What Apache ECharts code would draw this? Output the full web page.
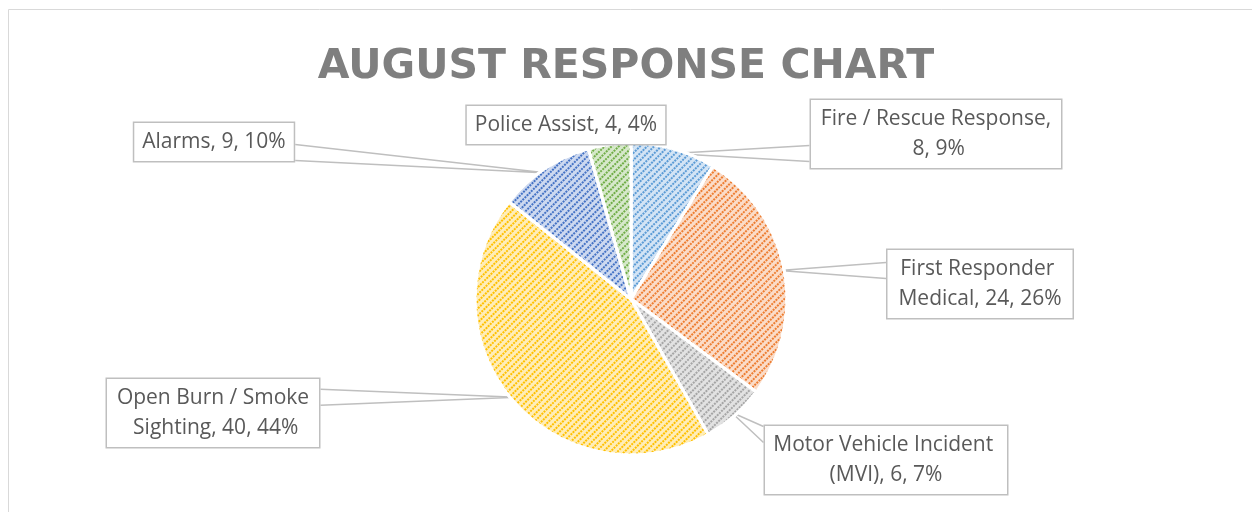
<!DOCTYPE html>
<html>
<head>
<meta charset="utf-8">
<script src="https://cdn.jsdelivr.net/npm/echarts@6/dist/echarts.min.js"></script>
<style>
  html, body { margin: 0; padding: 0; background: #fff; }
  #main { width: 1252px; height: 512px; }
</style>
</head>
<body>
<div id="main"></div>
<script>
// data
var categories = [
    'Fire / Rescue Response',
    'First Responder Medical',
    'Motor Vehicle Incident (MVI)',
    'Open Burn / Smoke Sighting',
    'Alarms',
    'Police Assist'
];
var responses = [8, 24, 6, 40, 9, 4];

// slice colours: pattern colour and light background tint
var dotColors = ['#5B9BD5', '#ED7D31', '#A5A5A5', '#FFC000', '#4472C4', '#70AD47'];
var tintColors = ['#D3E4F5', '#FBDCC8', '#E2E2E2', '#FFEDB8', '#CDD9F0', '#D6E8CA'];

// callout boxes (centre of box, wrap width for two-line ones)
var calloutBoxes = [
    { x: 936, y: 134, wrap: 234 },
    { x: 980, y: 284, wrap: 169 },
    { x: 886, y: 460, wrap: 226 },
    { x: 213, y: 413, wrap: 196 },
    { x: 214, y: 142, wrap: 0 },
    { x: 566, y: 125, wrap: 0 }
];
var PIE_CENTER = [631, 299];
var PIE_RADIUS = 156;

var myChart = echarts.init(document.getElementById('main'));

function clamp(v, a, b) {
    return Math.max(a, Math.min(b, v));
}

var seriesData = categories.map(function (name, i) {
    var item = {
        name: name,
        value: responses[i],
        itemStyle: {
            color: tintColors[i],
            decal: {
                symbol: 'rect',
                symbolSize: 1,
                color: dotColors[i],
                dashArrayX: [2, 1],
                dashArrayY: [2, 3],
                rotation: -Math.PI / 4
            }
        }
    };
    if (calloutBoxes[i].wrap) {
        item.label = { width: calloutBoxes[i].wrap, overflow: 'break' };
    }
    return item;
});

var option = {
    animation: false,
    graphic: [{
        type: 'rect',
        shape: { x: 8.5, y: 9.5, width: 1300, height: 600 },
        style: { fill: 'none', stroke: '#D9D9D9', lineWidth: 1 },
        silent: true
    }],
    title: {
        text: 'AUGUST RESPONSE CHART',
        left: 'center',
        top: 42,
        textStyle: {
            fontFamily: 'DejaVu Sans',
            fontWeight: 'bold',
            fontSize: 41,
            color: '#7F7F7F'
        }
    },
    series: [{
        type: 'pie',
        center: PIE_CENTER,
        radius: PIE_RADIUS,
        startAngle: 90,
        clockwise: true,
        percentPrecision: 0,
        avoidLabelOverlap: false,
        itemStyle: {
            borderColor: '#ffffff',
            borderWidth: 3
        },
        label: {
            show: true,
            position: 'outside',
            formatter: '{b}, {c}, {d}%',
            fontFamily: 'Open Sans',
            fontSize: 21,
            lineHeight: 30,
            color: '#595959',
            align: 'center',
            backgroundColor: '#ffffff',
            borderColor: '#BFBFBF',
            borderWidth: 1.5,
            padding: [4, 8]
        },
        labelLine: {
            show: true,
            length: 10,
            length2: 10,
            lineStyle: { color: '#BFBFBF', width: 1.5 }
        },
        labelLayout: function (params) {
            var b = calloutBoxes[params.dataIndex];
            var w = params.labelRect.width;
            var h = params.labelRect.height;
            var p0 = params.labelLinePoints[0];
            var tip = [
                PIE_CENTER[0] + (p0[0] - PIE_CENTER[0]) * 0.97,
                PIE_CENTER[1] + (p0[1] - PIE_CENTER[1]) * 0.97
            ];
            var L = b.x - w / 2, R = b.x + w / 2, T = b.y - h / 2, B = b.y + h / 2;
            var half = 8;
            var pts;
            if (tip[0] > R) {
                var yr = clamp(tip[1], T + half + 2, B - half - 2);
                pts = [[R, yr - half], tip, [R, yr + half]];
            } else if (tip[0] < L) {
                var yl = clamp(tip[1], T + half + 2, B - half - 2);
                pts = [[L, yl - half], tip, [L, yl + half]];
            } else if (tip[1] > B) {
                var xb = clamp(tip[0], L + half + 2, R - half - 2);
                pts = [[xb - half, B], tip, [xb + half, B]];
            } else {
                var xt = clamp(tip[0], L + half + 2, R - half - 2);
                pts = [[xt - half, T], tip, [xt + half, T]];
            }
            return {
                x: b.x,
                y: b.y,
                align: 'center',
                verticalAlign: 'middle',
                labelLinePoints: pts
            };
        },
        data: seriesData
    }]
};

myChart.setOption(option);
</script>
</body>
</html>
